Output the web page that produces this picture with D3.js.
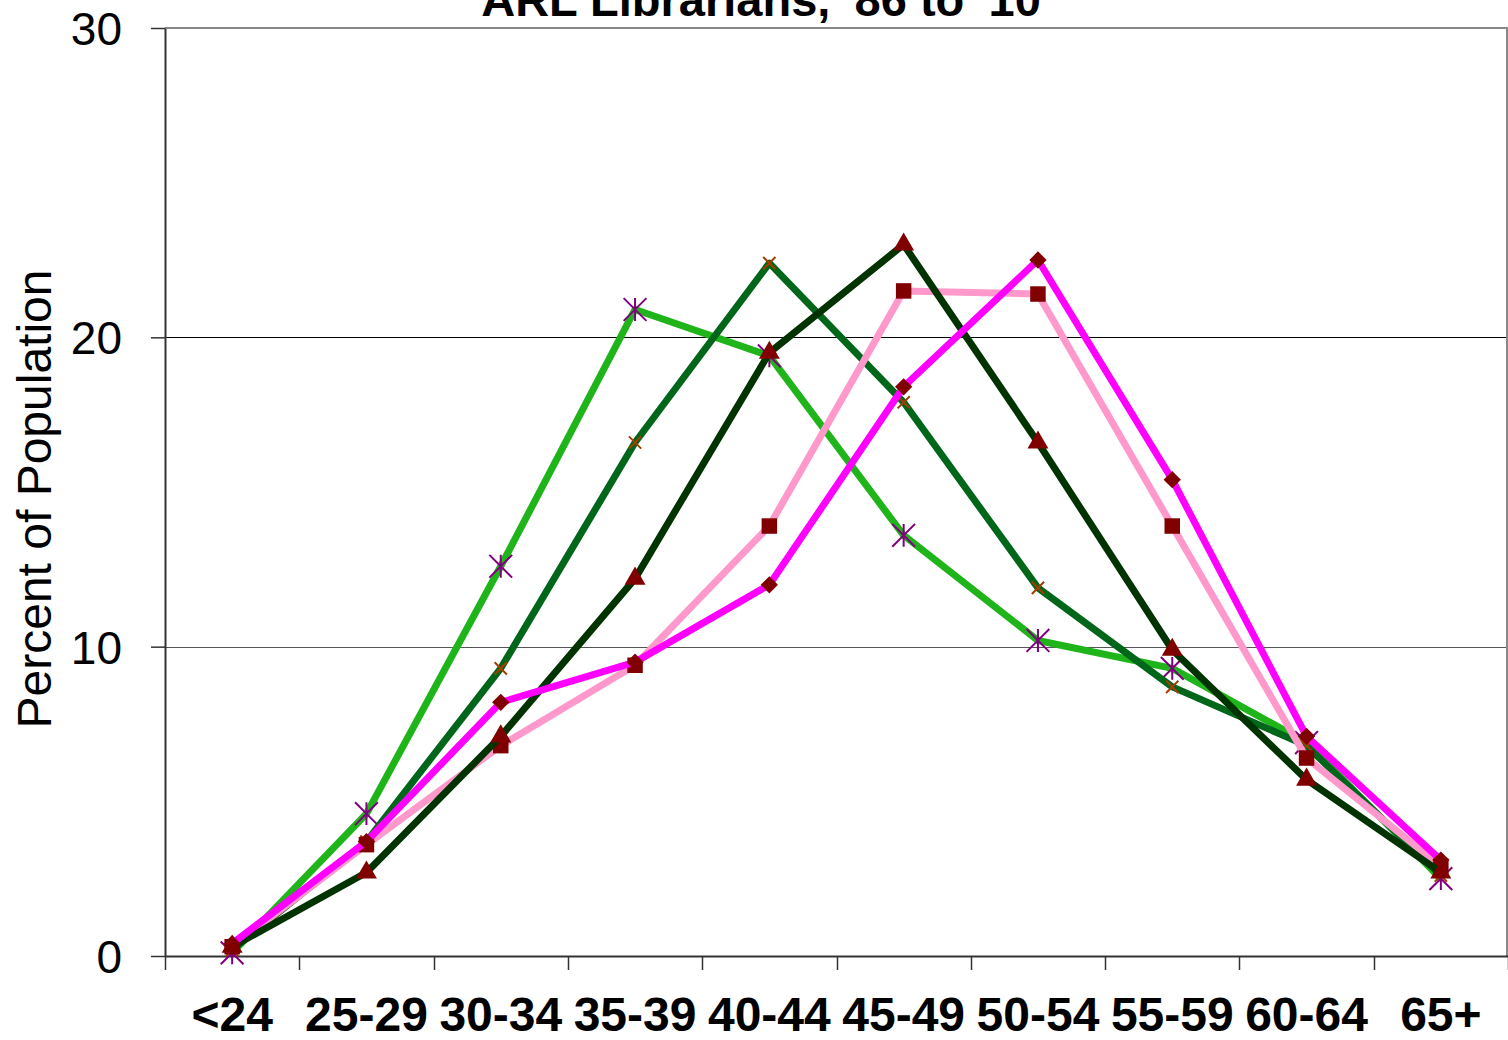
<!DOCTYPE html>
<html>
<head>
<meta charset="utf-8">
<script src="https://cdn.jsdelivr.net/npm/d3@7"></script>
<style>
  body { margin: 0; background: #fff; }
  svg { display: block; font-family: "Liberation Sans", Arial, sans-serif; }
</style>
</head>
<body>
<div id="chart"></div>
<script>
// age groups along the bottom
const categories = ["<24", "25-29", "30-34", "35-39", "40-44", "45-49", "50-54", "55-59", "60-64", "65+"];
const yTicks = [0, 10, 20, 30];

// percent of population per age group, one array per survey line
const lightGreenValues = [0.1, 4.6, 12.6, 20.9, 19.4, 13.6, 10.2, 9.3, 6.9, 2.5];
const midGreenValues   = [0.2, 3.7, 9.3, 16.6, 22.4, 17.9, 11.9, 8.7, 6.8, 2.6];
const pinkValues       = [0.3, 3.6, 6.8, 9.4, 13.9, 21.5, 21.4, 13.9, 6.4, 2.9];
const darkGreenValues  = [0.3, 2.7, 7.1, 12.2, 19.5, 23.0, 16.6, 9.9, 5.7, 2.7];
const magentaValues    = [0.4, 3.7, 8.2, 9.5, 12.0, 18.4, 22.5, 15.4, 7.1, 3.1];

const title = "ARL Librarians, '86 to '10";
const yTitle = "Percent of Population";

// excel style markers that d3 doesn't have exactly
const symbolStar = {
  draw(ctx, size) {
    const r = Math.sqrt(size) / 2;
    ctx.moveTo(0, -r); ctx.lineTo(0, r);
    ctx.moveTo(-r, -r); ctx.lineTo(r, r);
    ctx.moveTo(-r, r); ctx.lineTo(r, -r);
  }
};
const symbolX = {
  draw(ctx, size) {
    const r = Math.sqrt(size) / 2;
    ctx.moveTo(-r, -r); ctx.lineTo(r, r);
    ctx.moveTo(-r, r); ctx.lineTo(r, -r);
  }
};
// square turned 45deg (d3's diamond is too tall)
const symbolRhombus = {
  draw(ctx, size) {
    const r = Math.sqrt(size / 2);
    ctx.moveTo(0, -r); ctx.lineTo(r, 0); ctx.lineTo(0, r); ctx.lineTo(-r, 0);
    ctx.closePath();
  }
};

const series = [
  { values: lightGreenValues, color: "#1fb41a", width: 7, symbol: symbolStar, size: 520, fill: "none", stroke: "#800080" },
  { values: midGreenValues, color: "#00661a", width: 7, symbol: symbolX, size: 150, fill: "none", stroke: "#a63c00" },
  { values: pinkValues, color: "#ff99cc", width: 7, symbol: d3.symbolSquare, size: 240, fill: "#800000", stroke: "none" },
  { values: darkGreenValues, color: "#003300", width: 7, symbol: d3.symbolTriangle, size: 190, fill: "#800000", stroke: "none" },
  { values: magentaValues, color: "#ff00ff", width: 7, symbol: symbolRhombus, size: 150, fill: "#800000", stroke: "none" }
];

const width = 1508, height = 1040;
const plotLeft = 165, plotRight = 1507, plotTop = 28, plotBottom = 956;

const svg = d3.select("#chart").append("svg")
  .attr("width", width)
  .attr("height", height);

const x = d3.scaleBand().domain(categories).range([plotLeft, 1508]).padding(0);
const y = d3.scaleLinear().domain([0, 30]).range([plotBottom, plotTop]);
const cx = d => x(d) + x.bandwidth() / 2;

// gridlines
svg.append("g")
  .selectAll("line")
  .data([10, 20])
  .enter().append("line")
  .attr("x1", plotLeft).attr("x2", plotRight)
  .attr("y1", d => Math.round(y(d)) + 0.5)
  .attr("y2", d => Math.round(y(d)) + 0.5)
  .attr("stroke", d => d == 20 ? "#000" : "#555")
  .attr("stroke-width", 1);

// plot frame top/right
svg.append("line").attr("x1", plotLeft).attr("x2", plotRight + 1).attr("y1", plotTop).attr("y2", plotTop)
  .attr("stroke", "#888").attr("stroke-width", 2);
svg.append("line").attr("x1", plotRight).attr("x2", plotRight).attr("y1", plotTop).attr("y2", plotBottom)
  .attr("stroke", "#888").attr("stroke-width", 2);

// y axis
const yAxis = svg.append("g")
  .attr("transform", `translate(${plotLeft},0)`)
  .call(d3.axisLeft(y).tickValues(yTicks).tickSize(14).tickPadding(29).tickSizeOuter(0));
yAxis.select(".domain").attr("stroke", "#333").attr("stroke-width", 2);
yAxis.selectAll(".tick line").attr("stroke", "#333").attr("stroke-width", 1.5);
yAxis.selectAll(".tick text")
  .attr("font-size", 46)
  .attr("font-family", "Liberation Sans, Arial, sans-serif")
  .attr("fill", "#000")
  .attr("dy", "0.36em");

// x axis: labels at band centres, ticks at band edges
const xAxis = svg.append("g")
  .attr("transform", `translate(0,${plotBottom})`)
  .call(d3.axisBottom(x).tickSize(0).tickPadding(0).tickSizeOuter(0));
xAxis.select(".domain").attr("stroke", "#333").attr("stroke-width", 2);
xAxis.selectAll(".tick text")
  .attr("y", 75)
  .attr("dy", 0)
  .attr("font-size", 48)
  .attr("font-weight", "bold")
  .attr("font-family", "Liberation Sans, Arial, sans-serif")
  .attr("fill", "#000");

const edges = categories.map(c => x(c)).concat([x.range()[1]]);
svg.append("g")
  .selectAll("line")
  .data(edges)
  .enter().append("line")
  .attr("x1", d => Math.round(d) + 0.5).attr("x2", d => Math.round(d) + 0.5)
  .attr("y1", plotBottom).attr("y2", plotBottom + 14)
  .attr("stroke", "#333").attr("stroke-width", 1.5);

// lines + markers
const line = d3.line()
  .x((d, i) => cx(categories[i]))
  .y(d => y(d));

series.forEach(s => {
  const g = svg.append("g");
  g.append("path")
    .datum(s.values)
    .attr("d", line)
    .attr("fill", "none")
    .attr("stroke", s.color)
    .attr("stroke-width", s.width)
    .attr("stroke-linejoin", "round");
  g.selectAll("path.marker")
    .data(s.values)
    .enter().append("path")
    .attr("class", "marker")
    .attr("transform", (d, i) => `translate(${cx(categories[i])},${y(d)})`)
    .attr("d", d3.symbol().type(s.symbol).size(s.size))
    .attr("fill", s.fill)
    .attr("stroke", s.stroke)
    .attr("stroke-width", 2);
});

// titles (top of the title is cropped off in the original too)
svg.append("text")
  .attr("x", 761).attr("y", 16)
  .attr("text-anchor", "middle")
  .attr("font-size", 47)
  .attr("font-weight", "bold")
  .text(title);

svg.append("text")
  .attr("transform", "translate(51,499) rotate(-90)")
  .attr("text-anchor", "middle")
  .attr("font-size", 48)
  .text(yTitle);
</script>
</body>
</html>
